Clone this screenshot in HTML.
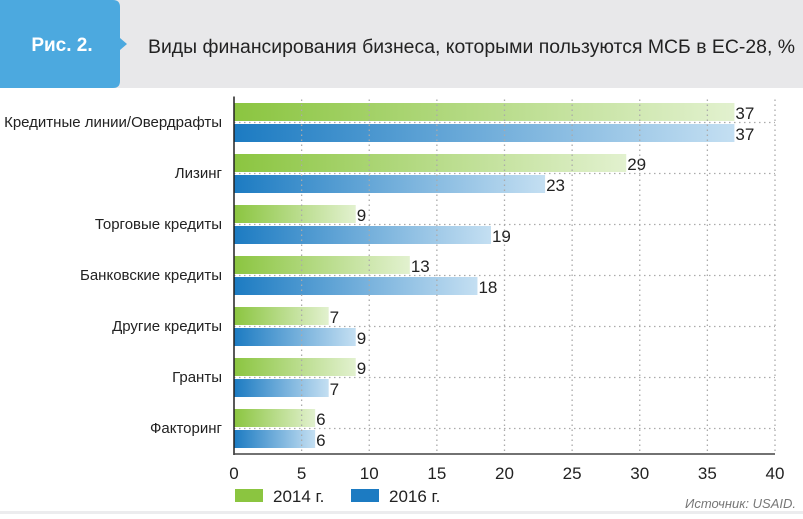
<!DOCTYPE html>
<html><head><meta charset="utf-8"><style>
body{margin:0;width:803px;height:514px;overflow:hidden;background:#fff;font-family:"Liberation Sans",sans-serif}
</style></head><body>
<svg width="803" height="514" xmlns="http://www.w3.org/2000/svg">
<defs>
<linearGradient id="gG" x1="0" x2="1"><stop offset="0" stop-color="#8bc540"/><stop offset="1" stop-color="#e2f1cf"/></linearGradient>
<linearGradient id="gB" x1="0" x2="1"><stop offset="0" stop-color="#1c7bc2"/><stop offset="1" stop-color="#c4dff2"/></linearGradient>
</defs>
<rect x="0" y="0" width="803" height="88" fill="#e8e8ea"/>
<path d="M0 0 H113 Q120 0 120 7 V38 L127 44 L120 50 V81 Q120 88 113 88 H0 Z" fill="#4ca9df"/>
<text x="62" y="51" fill="#fff" font-size="19" font-weight="bold" text-anchor="middle">Рис. 2.</text>
<text x="148" y="53" fill="#222" font-size="19" textLength="647" lengthAdjust="spacingAndGlyphs">Виды финансирования бизнеса, которыми пользуются МСБ в ЕС-28, %</text>
<g id="plot"></g>
<rect x="235" y="489" width="28" height="13" fill="#8bc540"/>
<text x="273" y="502" font-size="17" fill="#222">2014 г.</text>
<rect x="351" y="489" width="28" height="13" fill="#1c7bc2"/>
<text x="389" y="502" font-size="17" fill="#222">2016 г.</text>
<text x="796" y="508" font-size="13" font-style="italic" fill="#777" text-anchor="end">Источник: USAID.</text>
<rect x="0" y="511" width="803" height="3" fill="#ececee"/>
</svg>
<script>
const categories=["Кредитные линии/Овердрафты","Лизинг","Торговые кредиты","Банковские кредиты","Другие кредиты","Гранты","Факторинг"];
const values2014=[37,29,9,13,7,9,6];
const values2016=[37,23,19,18,9,7,6];
const ticks=[0,5,10,15,20,25,30,35,40];
const NS="http://www.w3.org/2000/svg";
const g=document.getElementById('plot');
const x0=234,x1=775,vmax=40,yTop=96.5,yBottom=454;
const xs=v=>x0+(v/vmax)*(x1-x0);
const step=51;
const cy=i=>yTop+step*(i+0.5);
function mk(t,a,txt){const e=document.createElementNS(NS,t);for(const k in a)e.setAttribute(k,a[k]);if(txt!==undefined)e.textContent=txt;g.appendChild(e);return e;}
categories.forEach((c,i)=>{
  const y=cy(i);
  const b1=mk('rect',{x:x0,y:y-19,width:xs(values2014[i])-x0,height:18,fill:'url(#gG)'});
  
  
  const b2=mk('rect',{x:x0,y:y+2,width:xs(values2016[i])-x0,height:18,fill:'url(#gB)'});
  
  
  const l1=mk('text',{x:xs(values2014[i])+1,y:y-3,'font-size':17,fill:'#222'},values2014[i]);
  
  
  const l2=mk('text',{x:xs(values2016[i])+1,y:y+18,'font-size':17,fill:'#222'},values2016[i]);
  
  
  const cl=mk('text',{x:222,y:y+5,'font-size':15,fill:'#222','text-anchor':'end'},c);
  
  
  const hl=mk('line',{x1:x0,x2:x1,y1:y+0.5,y2:y+0.5,stroke:'#aaa','stroke-width':1.3,'stroke-dasharray':'1.5 3.5'});
  
  
});
ticks.forEach((t,i)=>{
  const x=xs(t);
  if(t>0){const vl=mk('line',{x1:x,x2:x,y1:yTop+3,y2:yBottom,stroke:'#aaa','stroke-width':1.3,'stroke-dasharray':'1.5 3.5'});
  
  }
  const tl=mk('text',{x:x,y:479,'font-size':17,fill:'#222','text-anchor':'middle'},t);
  
  
});
const ya=mk('line',{x1:x0,x2:x0,y1:yTop,y2:yBottom+1,stroke:'#222','stroke-width':1.5});


const xa=mk('line',{x1:x0,x2:x1,y1:yBottom,y2:yBottom,stroke:'#444','stroke-width':1.5});


</script>
</body></html>
